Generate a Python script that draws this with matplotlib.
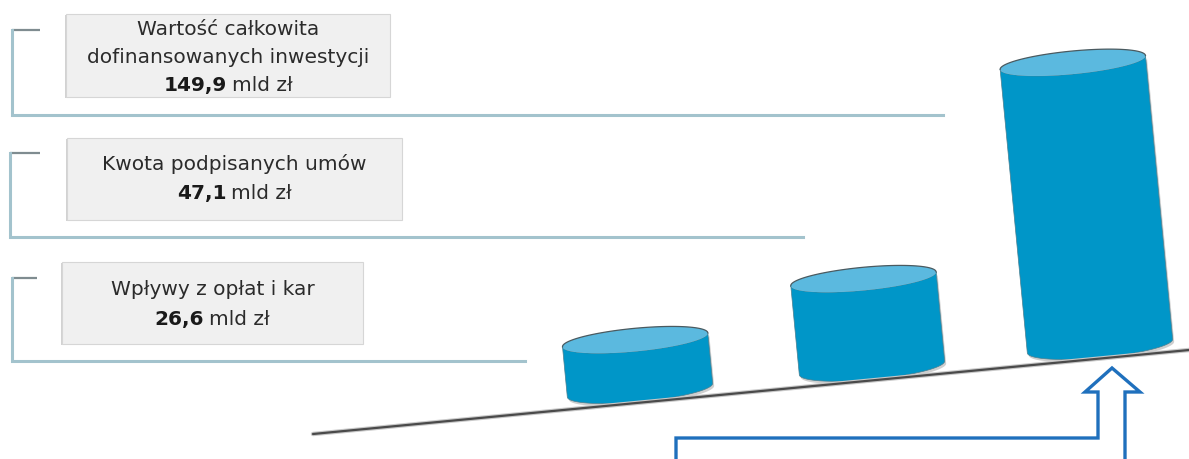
import matplotlib
matplotlib.use('Agg')
import matplotlib.pyplot as plt
import numpy as np
from matplotlib.patches import Polygon, Rectangle

plt.rcParams['font.family'] = ['DejaVu Sans']

# data (top box -> bottom box)
box_lines = [["Wartość całkowita", "dofinansowanych inwestycji"],
             ["Kwota podpisanych umów"],
             ["Wpływy z opłat i kar"]]
value_labels = ["149,9", "47,1", "26,6"]
values = [149.9, 47.1, 26.6]
unit = "mld zł"

W, H = 1189, 459
fig = plt.figure(figsize=(W / 100, H / 100), dpi=100)
ax = fig.add_axes([0, 0, 1, 1])
ax.set_xlim(0, W)
ax.set_ylim(H, 0)
ax.axis('off')
renderer = fig.canvas.get_renderer()

# layout of boxes / brackets
box_x = [66, 67, 62]
box_y = [14, 138, 262]
box_w = [324, 335, 301]
box_h = [83, 82, 82]
line_y = [[35, 63, 91], [170, 199], [295, 325]]
br_x = [12, 10, 12]
br_top = [30, 153, 278]
br_bot = [115, 237, 361]
br_end = [943, 803, 525]
tick_end = [40, 40, 37]

txt_col = '#2b2b2b'
fs = 14.5

for i in range(3):
    # bracket
    ax.plot([tick_end[i], br_x[i]], [br_top[i], br_top[i]], color='#7f8c90', lw=1.6, solid_capstyle='butt')
    ax.plot([br_x[i], br_x[i], br_end[i]], [br_top[i], br_bot[i], br_bot[i]],
            color='#a3c3cd', lw=2.2, solid_joinstyle='miter')
    # box with soft shadow
    ax.add_patch(Rectangle((box_x[i] - 1.5, box_y[i] + 1), box_w[i], box_h[i],
                           facecolor='#b5b5b5', edgecolor='none', alpha=0.6))
    ax.add_patch(Rectangle((box_x[i], box_y[i]), box_w[i], box_h[i],
                           facecolor='#f0f0f0', edgecolor='#d6d6d6', lw=0.8))
    cx = box_x[i] + box_w[i] / 2
    for j, line in enumerate(box_lines[i]):
        ax.text(cx, line_y[i][j], line, ha='center', va='baseline', fontsize=fs, color=txt_col)
    # value line: bold number + regular unit, centered together
    yb = line_y[i][len(box_lines[i])]
    tb = ax.text(0, yb, value_labels[i], ha='left', va='baseline', fontsize=fs,
                 fontweight='bold', color='#1a1a1a')
    tu = ax.text(0, yb, unit, ha='left', va='baseline', fontsize=fs, color=txt_col)
    wb = tb.get_window_extent(renderer).width
    wu = tu.get_window_extent(renderer).width
    gap = 5
    x0 = cx - (wb + gap + wu) / 2
    tb.set_x(x0)
    tu.set_x(x0 + wb + gap)

# inclined base line
bx = np.array([313, 1189])
by = np.array([434, 350])
ax.plot(bx, by, color='#c8c8c8', lw=3.2, solid_capstyle='round')
ax.plot(bx, by, color='#4a4a4a', lw=1.6, solid_capstyle='round')
slope = (by[1] - by[0]) / (bx[1] - bx[0])
theta = np.arctan(-slope)

# cylinders (left -> right, smallest first)
cyl_vals = values[::-1]
cyl_cx = [640, 872, 1100]
a, b = 73, 11.5
k = 1.9  # px per mld zł
ct, st = np.cos(theta), np.sin(theta)


def to_img(cx, cy, s, t):
    return np.column_stack([cx + s * ct - t * st, cy - s * st - t * ct])


phi = np.linspace(0, np.pi, 60)
for cx, v in zip(cyl_cx, cyl_vals):
    cy = by[0] + slope * (cx - bx[0]) - b - 1
    h = v * k
    s_body = np.concatenate([[-a], -a * np.cos(phi), [a], a * np.cos(phi)])
    t_body = np.concatenate([[h], -b * np.sin(phi), [h], h - b * np.sin(phi)])
    body = to_img(cx, cy, s_body, t_body)
    ax.add_patch(Polygon(body + [1.5, 2.5], closed=True, facecolor='#777777',
                         edgecolor='none', alpha=0.35))
    ax.add_patch(Polygon(body, closed=True, facecolor='#0096c8', edgecolor='#4a7f90', lw=0.5))
    ph = np.linspace(0, 2 * np.pi, 120)
    top = to_img(cx, cy, a * np.cos(ph), h + b * np.sin(ph))
    ax.add_patch(Polygon(top, closed=True, facecolor='#5bb9df', edgecolor='none'))
    back = to_img(cx, cy, a * np.cos(phi), h + b * np.sin(phi))
    ax.plot(back[:, 0], back[:, 1], color='#4a5a60', lw=0.9)

# outlined arrow pointing up to the largest cylinder
ax_x = [676, 676, 1098, 1098, 1085, 1112, 1140, 1125, 1125]
ax_y = [462, 438, 438, 392, 392, 368, 392, 392, 462]
ax.plot(ax_x, ax_y, color='#1f70bd', lw=2.4, solid_joinstyle='miter')

fig.savefig('out.png', dpi=100)
